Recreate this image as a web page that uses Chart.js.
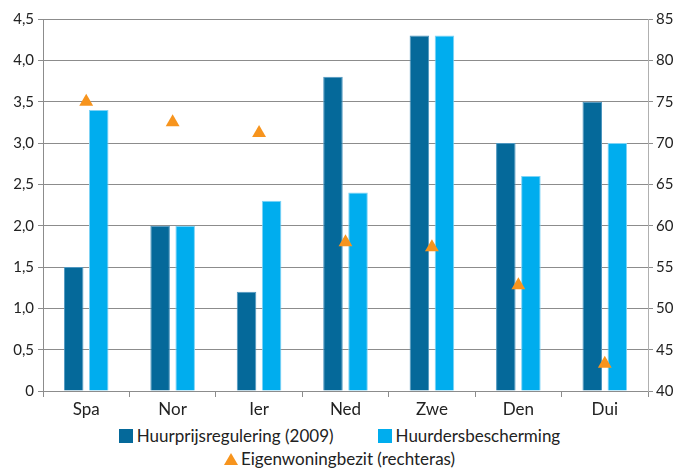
<!DOCTYPE html>
<html>
<head>
<meta charset="utf-8">
<script src="https://cdn.jsdelivr.net/npm/chart.js@4"></script>
<style>
  html, body { margin: 0; padding: 0; background: #fff; }
  #wrap { position: relative; width: 679px; height: 420px; }
  #legend { width: 679px; padding-top: 4px; font-family: Lato, sans-serif; font-size: 17px; color: #222; text-align: center; }
  #legend .row { height: 23px; line-height: 23px; white-space: nowrap; }
  #legend .item { display: inline-block; margin: 0 22px; }
  #legend .sw { display: inline-block; width: 14px; height: 14px; margin-right: 4px; vertical-align: -1px; }
  #legend .tri { display: inline-block; width: 0; height: 0; border-left: 7px solid transparent; border-right: 7px solid transparent; border-bottom: 12px solid #f7941d; margin-right: 3px; vertical-align: 0; }
</style>
</head>
<body>
<div id="wrap"><canvas id="chart"></canvas></div>
<div id="legend"></div>
<script>
// categories and series
var landen = ['Spa', 'Nor', 'Ier', 'Ned', 'Zwe', 'Den', 'Dui'];
var huurprijs = [1.5, 2.0, 1.2, 3.8, 4.3, 3.0, 3.5];
var huurders = [3.4, 2.0, 2.3, 2.4, 4.3, 2.6, 3.0];
var eigenWoning = [75.0, 72.5, 71.2, 58.0, 57.4, 52.8, 43.3];
var links = [0, 0.5, 1, 1.5, 2, 2.5, 3, 3.5, 4, 4.5];
var rechts = [40, 45, 50, 55, 60, 65, 70, 75, 80, 85];

var namen = ['Huurprijsregulering (2009)', 'Huurdersbescherming', 'Eigenwoningbezit (rechteras)'];
var kleuren = ['#05699a', '#00adee', '#f7941d'];

var grijs = '#8c8c8c';
var fnt = { family: 'Lato, sans-serif', size: 15 };

var ctx = document.getElementById('chart').getContext('2d');
var chart = new Chart(ctx, {
    type: 'bar',
    data: {
        labels: landen,
        datasets: [{
            label: namen[0],
            data: huurprijs,
            backgroundColor: kleuren[0],
            borderColor: '#4f97c0',
            borderWidth: 1,
            yAxisID: 'y',
            order: 1,
            barPercentage: 0.78,
            categoryPercentage: 0.58
        }, {
            label: namen[1],
            data: huurders,
            backgroundColor: kleuren[1],
            borderColor: '#7fd3f5',
            borderWidth: 1,
            yAxisID: 'y',
            order: 1,
            barPercentage: 0.78,
            categoryPercentage: 0.58
        }, {
            type: 'line',
            label: namen[2],
            data: eigenWoning,
            showLine: false,
            pointStyle: 'triangle',
            pointRadius: 8,
            pointHoverRadius: 8,
            pointBackgroundColor: kleuren[2],
            pointBorderColor: kleuren[2],
            pointBorderWidth: 0,
            yAxisID: 'y1',
            order: 0
        }]
    },
    options: {
        responsive: true,
        maintainAspectRatio: false,
        animation: false,
        layout: { padding: { top: 19, right: 0, left: 0, bottom: 0 } },
        plugins: {
            legend: { display: false },
            tooltip: { enabled: false }
        },
        scales: {
            x: {
                offset: true,
                grid: { drawOnChartArea: false, offset: true, tickLength: 6, color: grijs },
                border: { color: grijs },
                ticks: { color: '#222', font: { family: 'Lato, sans-serif', size: 17 }, padding: 2 },
                afterFit: function (s) { s.height = 29; }
            },
            y: {
                position: 'left',
                min: 0,
                max: 4.5,
                afterBuildTicks: function (s) { s.ticks = links.map(v => ({ value: v })); },
                grid: { color: grijs, tickLength: 5 },
                border: { color: grijs },
                ticks: {
                    color: '#222',
                    font: fnt,
                    padding: 4,
                    callback: function (v) { return v === 0 ? '0' : v.toFixed(1).replace('.', ','); }
                },
                afterFit: function (s) { s.width = 43; }
            },
            y1: {
                position: 'right',
                min: 40,
                max: 85,
                afterBuildTicks: function (s) { s.ticks = rechts.map(v => ({ value: v })); },
                grid: { drawOnChartArea: false, color: grijs, tickLength: 5 },
                border: { color: '#b0b0b0' },
                ticks: { color: '#222', font: fnt, padding: 3 },
                afterFit: function (s) { s.width = 31; }
            }
        }
    }
});

// legenda in twee regels, zoals in het origineel
var legend = document.getElementById('legend');
legend.innerHTML =
    '<div class="row">' +
    '<span class="item"><span class="sw" style="background:' + kleuren[0] + '"></span>' + namen[0] + '</span>' +
    '<span class="item"><span class="sw" style="background:' + kleuren[1] + '"></span>' + namen[1] + '</span>' +
    '</div>' +
    '<div class="row"><span class="item"><span class="tri"></span>' + namen[2] + '</span></div>';
</script>
</body>
</html>
